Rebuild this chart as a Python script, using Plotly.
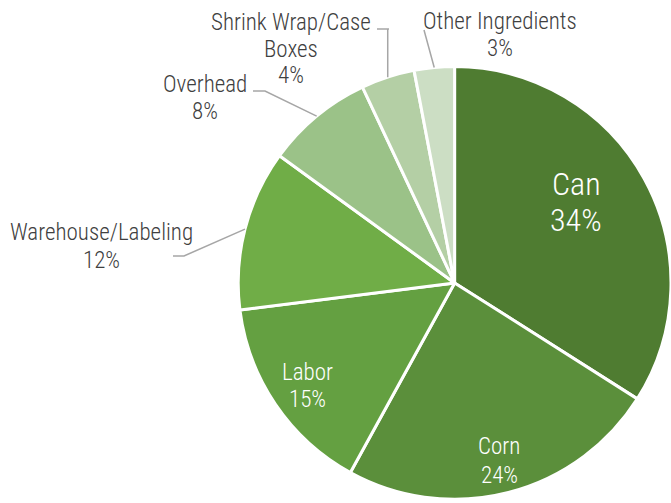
import math
import plotly.graph_objects as go

categories = ["Can", "Corn", "Labor", "Warehouse/Labeling", "Overhead",
              "Shrink Wrap/Case Boxes", "Other Ingredients"]
values = [34, 24, 15, 12, 8, 4, 3]
colors = ["#4F7C31", "#5B8F3B", "#64A041", "#70AD47", "#9BC288", "#B4CFA5", "#CCDEC4"]
label_lines = [["Can", "34%"], ["Corn", "24%"], ["Labor", "15%"],
               ["Warehouse/Labeling", "12%"], ["Overhead", "8%"],
               ["Shrink Wrap/Case", "Boxes", "4%"], ["Other Ingredients", "3%"]]

W, H = 671, 503
FONT = "Liberation Sans Narrow, Arial Narrow, Roboto Condensed, Liberation Sans, sans-serif"
dom_x = [0.355, 1.0]
dom_y = [0.0, 0.875]

fig = go.Figure(go.Pie(
    labels=categories, values=values, sort=False, direction="clockwise", rotation=0,
    marker=dict(colors=colors, line=dict(color="white", width=3)),
    textinfo="none", hoverinfo="label+percent", showlegend=False,
    domain=dict(x=dom_x, y=dom_y),
))

# pie geometry in pixels (from top-left)
dw = (dom_x[1] - dom_x[0]) * W
dh = (dom_y[1] - dom_y[0]) * H
R = min(dw, dh) / 2
CX = dom_x[0] * W + dw / 2
CY = H - (dom_y[0] * H + dh / 2)

def px(x):
    return x / W

def py(y):
    return 1 - y / H

# label placements (pixel centers of each text line), font sizes, colours
label_pos = [
    (576, [184.5, 219.5], 32, "white"),
    (499, [446.5, 475], 23, "white"),
    (307, [372.5, 399.5], 23, "white"),
    (101, [232.5, 260.5], 23, "#404040"),
    (205, [84.5, 111], 23, "#404040"),
    (291, [22.5, 49.5, 75.5], 23, "#404040"),
    (500, [21.5, 48], 23, "#404040"),
]
annotations = []
for lines, (x, ys, fs, col) in zip(label_lines, label_pos):
    for t, y in zip(lines, ys):
        annotations.append(dict(x=px(x), y=py(y), xref="paper", yref="paper",
                                text=t, showarrow=False, xanchor="center", yanchor="middle",
                                font=dict(family=FONT, size=fs, color=col, weight=300)))

# leader lines: from near the label to the slice mid-angle on the rim
total = sum(values)
cum = 0
mids = []
for v in values:
    mids.append((cum + v / 2) / total * 2 * math.pi)
    cum += v

def rim(i):
    a = mids[i]
    return CX + R * math.sin(a), CY - R * math.cos(a)

leader_starts = {3: [(173, 256), (184, 256)], 4: [(253, 91), (265, 91)],
                 5: [(377, 29), (389, 29)], 6: [(424, 30)]}
shapes = []
for i, pts in leader_starts.items():
    ex, ey = rim(i)
    if i == 5:
        pts = pts + [(ex, 29)]
    allpts = pts + [(ex, ey)]
    path = "M " + " L ".join(f"{px(x):.5f},{py(y):.5f}" for x, y in allpts)
    shapes.append(dict(type="path", xref="paper", yref="paper", path=path,
                       line=dict(color="#A6A6A6", width=1.5)))

fig.update_layout(width=W, height=H, margin=dict(l=0, r=0, t=0, b=0),
                  paper_bgcolor="white", plot_bgcolor="white",
                  annotations=annotations, shapes=shapes)
fig.write_html("out.html")
